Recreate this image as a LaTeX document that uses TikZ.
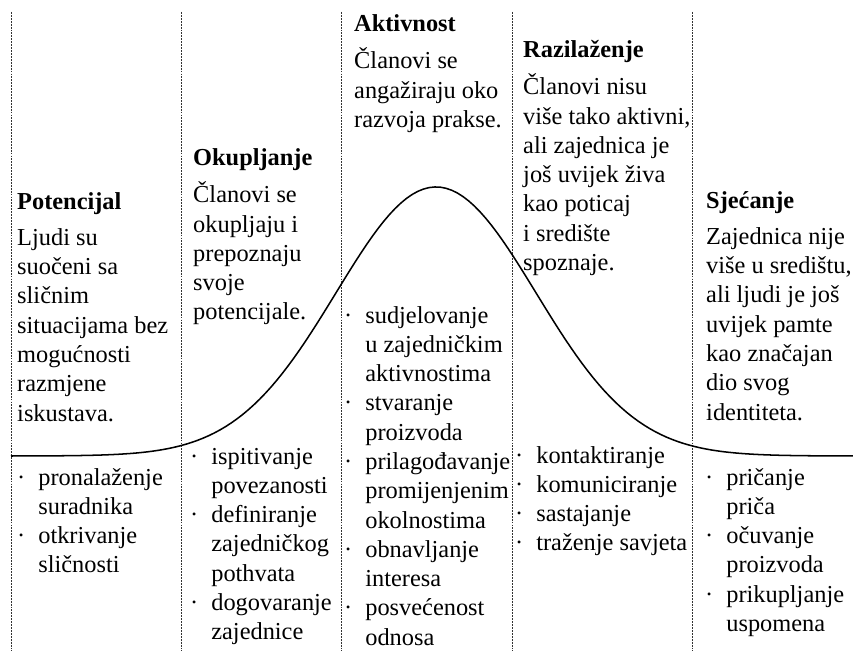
\documentclass[tikz,border=0pt]{standalone}
\usepackage{fontspec}
\setmainfont{Liberation Serif}
\usepackage{tikz}

\tikzset{
    phase/.style={anchor=base west, inner sep=0pt, font=\fontsize{20.8}{25}\selectfont},
    divider/.style={line width=0.5pt, dash pattern=on 1.6pt off 0.9pt, black!80},
    curve/.style={line width=1.3pt}
}
\newcommand{\phasetext}[2]{\begin{tabular}[t]{@{}l@{}}\textbf{#1}\\[6pt] #2\end{tabular}}
\newcommand{\phaselist}[1]{\begin{tabular}[t]{@{}l@{\hspace{0.39cm}}l@{}}#1\end{tabular}}

\begin{document}
\begin{tikzpicture}[x=0.3mm, y=-0.3mm]
        \useasboundingbox (0,0) rectangle (853,651);

        % dividers between the phases
        \foreach \xd in {11,181,341,512,692}
            \draw[divider] (\xd,12) -- (\xd,651);

        % activity curve
        \draw[curve] plot[domain=0.11:8.53, samples=150] ({100*\x}, {456-269*exp(-0.5*(\x-4.36)^2)});

        % phase descriptions
        \node[phase] (pot) at (17,209) {\phasetext{Potencijal}{Ljudi su\\ suočeni sa\\ sličnim\\ situacijama bez\\ mogućnosti\\ razmjene\\ iskustava.}};
        \node[phase] (oku) at (193,166) {\phasetext{Okupljanje}{Članovi se\\ okupljaju i\\ prepoznaju\\ svoje\\ potencijale.}};
        \node[phase] (akt) at (354,32) {\phasetext{Aktivnost}{Članovi se\\ angažiraju oko\\ razvoja prakse.}};
        \node[phase] (raz) at (523,58) {\phasetext{Razilaženje}{Članovi nisu\\ više tako aktivni,\\ ali zajednica je\\ još uvijek živa\\ kao poticaj\\ i središte\\ spoznaje.}};
        \node[phase] (sje) at (706,208) {\phasetext{Sjećanje}{Zajednica nije\\ više u središtu,\\ ali ljudi je još\\ uvijek pamte\\ kao značajan\\ dio svog\\ identiteta.}};

        % typical activities
        \node[phase] (potlist) at (17,485) {\phaselist{· & pronalaženje\\ & suradnika\\ · & otkrivanje\\ & sličnosti}};
        \node[phase] (okulist) at (190,464) {\phaselist{· & ispitivanje\\ & povezanosti\\ · & definiranje\\ & zajedničkog\\ & pothvata\\ · & dogovaranje\\ & zajednice}};
        \node[phase] (aktlist) at (344,323) {\phaselist{· & sudjelovanje\\ & u zajedničkim\\ & aktivnostima\\ · & stvaranje\\ & proizvoda\\ · & prilagođavanje\\ & promijenjenim\\ & okolnostima\\ · & obnavljanje\\ & interesa\\ · & posvećenost\\ & odnosa}};
        \node[phase] (razlist) at (515,463) {\phaselist{· & kontaktiranje\\ · & komuniciranje\\ · & sastajanje\\ · & traženje savjeta}};
        \node[phase] (sjelist) at (705,485) {\phaselist{· & pričanje\\ & priča\\ · & očuvanje\\ & proizvoda\\ · & prikupljanje\\ & uspomena}};
\end{tikzpicture}
\end{document}
